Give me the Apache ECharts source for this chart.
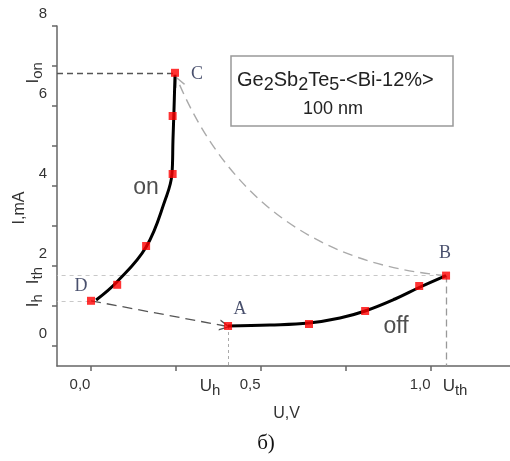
<!DOCTYPE html>
<html>
<head>
<meta charset="utf-8">
<script src="https://cdn.jsdelivr.net/npm/echarts@6/dist/echarts.min.js"></script>
<style>
html, body { margin: 0; padding: 0; background: #fff; }
#chart { width: 510px; height: 461px; }
</style>
</head>
<body>
<div id="chart"></div>
<script>
// measured points, U in V, I in mA
const onU = [0, 0.077, 0.162, 0.24, 0.24, 0.247];
const onI = [1.13, 1.53, 2.5, 4.3, 5.75, 6.83];
const offU = [0.403, 0.641, 0.806, 0.965, 1.044];
const offI = [0.5, 0.55, 0.875, 1.5, 1.76];

// traced black curves
const onCurveU = [0.015, 0.076, 0.162, 0.218, 0.238, 0.241, 0.244, 0.247];
const onCurveI = [1.15, 1.6, 2.475, 3.65, 4.3, 5.15, 5.9, 6.78];
const offCurveU = [0.403, 0.526, 0.641, 0.732, 0.806, 0.894, 0.968, 1.044];
const offCurveI = [0.5, 0.525, 0.575, 0.7, 0.875, 1.175, 1.475, 1.76];

// characteristic values
const Uh = 0.403, Uth = 1.044;
const Ih = 1.13, Ith = 1.76, Ion = 6.83;
const tipC = [0.256, 6.62]; // arrow head near C
const tipA = [0.394, 0.5];  // arrow head near A

// ticks and labels
const xTicks = [0, 0.25, 0.5, 0.75, 1.0];
const xLabels = [0, 0.5, 1.0];
const yTicks = [0, 1, 2, 3, 4, 5, 6, 7, 8];
const yLabels = [0, 2, 4, 6, 8];

const pA = [offU[0], offI[0]];
const pB = [offU[4], offI[4]];
const pC = [onU[5], onI[5]];
const pD = [onU[0], onI[0]];

const xMin = -0.1, xMax = 1.232, yMin = -0.5, yMax = 8;

const axisColor = '#666';
const textColor = '#333';
const sans = 'Liberation Sans, Arial, sans-serif';
const serif = 'Liberation Serif, Times New Roman, serif';
const chevron = 'path://M50,0 L100,100 L86,100 L50,28 L14,100 L0,100 Z';

const zip = (a, b) => a.map((v, i) => [v, b[i]]);
const near = (a, b) => Math.abs(a - b) < 1e-6;

const chart = echarts.init(document.getElementById('chart'));

const option = {
  animation: false,
  grid: { left: 57, right: 0, top: 26, bottom: 95 },
  xAxis: [{
    type: 'value', min: xMin, max: xMax,
    axisLine: { onZero: false, lineStyle: { color: axisColor, width: 1.5 } },
    axisTick: { customValues: xTicks, length: 5, lineStyle: { color: axisColor, width: 1.5 } },
    splitLine: { show: false },
    axisLabel: {
      customValues: xLabels.concat([Uh, Uth]),
      margin: 9,
      formatter: function (v) {
        if (near(v, Uh)) return '{u|U}{sh|h}';
        if (near(v, Uth)) return '{ut|U}{st|th}';
        return '{n|' + v.toFixed(1).replace('.', ',') + '}';
      },
      rich: {
        n: { fontSize: 15, fontFamily: sans, color: textColor, padding: [2, 22, 0, 0] },
        u: { fontSize: 17, fontFamily: sans, color: textColor },
        sh: { fontSize: 15, fontFamily: sans, color: textColor, padding: [8, 36, 0, 0] },
        ut: { fontSize: 17, fontFamily: sans, color: textColor, padding: [0, 0, 0, 18] },
        st: { fontSize: 15, fontFamily: sans, color: textColor, padding: [8, 0, 0, 0] }
      }
    },
    name: 'U,V', nameLocation: 'middle', nameGap: 40,
    nameTextStyle: { fontSize: 16, fontFamily: sans, color: textColor, padding: [0, 0, 0, 6] }
  }],
  yAxis: [{
    type: 'value', min: yMin, max: yMax,
    axisLine: { onZero: false, lineStyle: { color: axisColor, width: 1.5 } },
    axisTick: { customValues: yTicks, length: 5, lineStyle: { color: axisColor, width: 1.5 } },
    splitLine: { show: false },
    axisLabel: {
      customValues: yLabels, margin: 10,
      formatter: '{n|{value}}',
      rich: { n: { fontSize: 15, fontFamily: sans, color: textColor, padding: [0, 0, 24, 0] } }
    },
    name: 'I,mA', nameLocation: 'middle', nameGap: 23, nameRotate: 90,
    nameTextStyle: { fontSize: 16, fontFamily: sans, color: textColor, padding: [0, 24, 0, 0] }
  }, {
    type: 'value', min: yMin, max: yMax, position: 'left',
    axisLine: { show: false }, axisTick: { show: false }, splitLine: { show: false },
    axisLabel: {
      customValues: [Ih, Ith, Ion], rotate: 90, margin: 12,
      formatter: function (v) {
        if (near(v, Ih)) return '{i|I}{s|h}';
        if (near(v, Ith)) return '{i|I}{s|th}';
        return '{i|I}{s|on}';
      },
      rich: {
        i: { fontSize: 17, fontFamily: sans, color: textColor },
        s: { fontSize: 15, fontFamily: sans, color: textColor, padding: [8, 0, 0, 0] }
      }
    }
  }],
  series: [
    {
      // thin guide lines
      type: 'lines', coordinateSystem: 'cartesian2d', z: 1, symbol: 'none',
      data: [
        { coords: [[xMin, Ion], pC], lineStyle: { color: '#555', width: 1.3, type: [6, 4], opacity: 1 } },
        { coords: [[xMin - 0.01, Ith], pB], lineStyle: { color: '#c8c8c8', width: 1, type: [4, 4], opacity: 1 } },
        { coords: [[xMin - 0.01, Ih], pD], lineStyle: { color: '#c8c8c8', width: 1, type: [4, 4], opacity: 1 } },
        { coords: [pA, [Uh, yMin]], lineStyle: { color: '#aaa', width: 1, type: [3, 3], opacity: 1 } },
        { coords: [pB, [Uth, yMin]], lineStyle: { color: '#999', width: 1.3, type: [7, 4], opacity: 1 } }
      ]
    },
    {
      // switching arrows
      type: 'lines', coordinateSystem: 'cartesian2d', z: 2,
      symbol: ['none', chevron], symbolSize: 11,
      data: [
        { coords: [pD, tipA], lineStyle: { color: '#555', width: 1.3, type: [10, 6], opacity: 1 } },
        { coords: [pB, tipC], lineStyle: { color: '#aaa', width: 1.4, type: [10, 6], opacity: 1, curveness: 0.3 } }
      ]
    },
    {
      type: 'line', data: zip(onCurveU, onCurveI), smooth: 0.4, showSymbol: false, z: 3,
      lineStyle: { color: '#000', width: 3 }
    },
    {
      type: 'line', data: zip(offCurveU, offCurveI), smooth: 0.4, showSymbol: false, z: 3,
      lineStyle: { color: '#000', width: 3 }
    },
    {
      type: 'scatter', symbol: 'rect', symbolSize: 8, z: 5,
      itemStyle: { color: '#ff0000' },
      data: zip(onU, onI).concat(zip(offU, offI))
    },
    {
      // point letters
      type: 'scatter', symbolSize: 0, z: 6,
      label: { show: true, formatter: '{b}', fontSize: 18, fontFamily: serif, color: '#1c2448' },
      data: [
        { name: 'A', value: pA, label: { offset: [12, -17] } },
        { name: 'B', value: pB, label: { offset: [-1, -22] } },
        { name: 'C', value: pC, label: { offset: [22, 1] } },
        { name: 'D', value: pD, label: { offset: [-10, -15] } }
      ]
    },
    {
      // branch names
      type: 'scatter', symbolSize: 0, z: 6,
      label: { show: true, formatter: '{b}', fontSize: 23, fontFamily: sans, color: '#222' },
      data: [
        { name: 'on', value: [0.162, 3.96] },
        { name: 'off', value: [0.897, 0.475] }
      ]
    }
  ],
  graphic: [
    { type: 'rect', shape: { x: 231, y: 56, width: 222, height: 70 },
      style: { fill: '#fff', stroke: '#999', lineWidth: 1.5 }, z: 10 },
    { type: 'text', x: 237, y: 66, z: 11,
      style: {
        text: 'Ge{s|2}Sb{s|2}Te{s|5}-<Bi-12%>',
        fontSize: 20, fontFamily: sans, fill: '#222',
        rich: { s: { fontSize: 18, fontFamily: sans, fill: '#222', padding: [10, 0, 0, 0] } }
      } },
    { type: 'text', x: 333, y: 109, z: 11,
      style: { text: '100 nm', fontSize: 18, fontFamily: sans, fill: '#222', align: 'center', verticalAlign: 'middle' } },
    { type: 'text', x: 266, y: 443, z: 11,
      style: { text: 'б)', fontSize: 21, fontFamily: serif, fill: '#111', align: 'center', verticalAlign: 'middle' } }
  ]
};

chart.setOption(option);
</script>
</body>
</html>
